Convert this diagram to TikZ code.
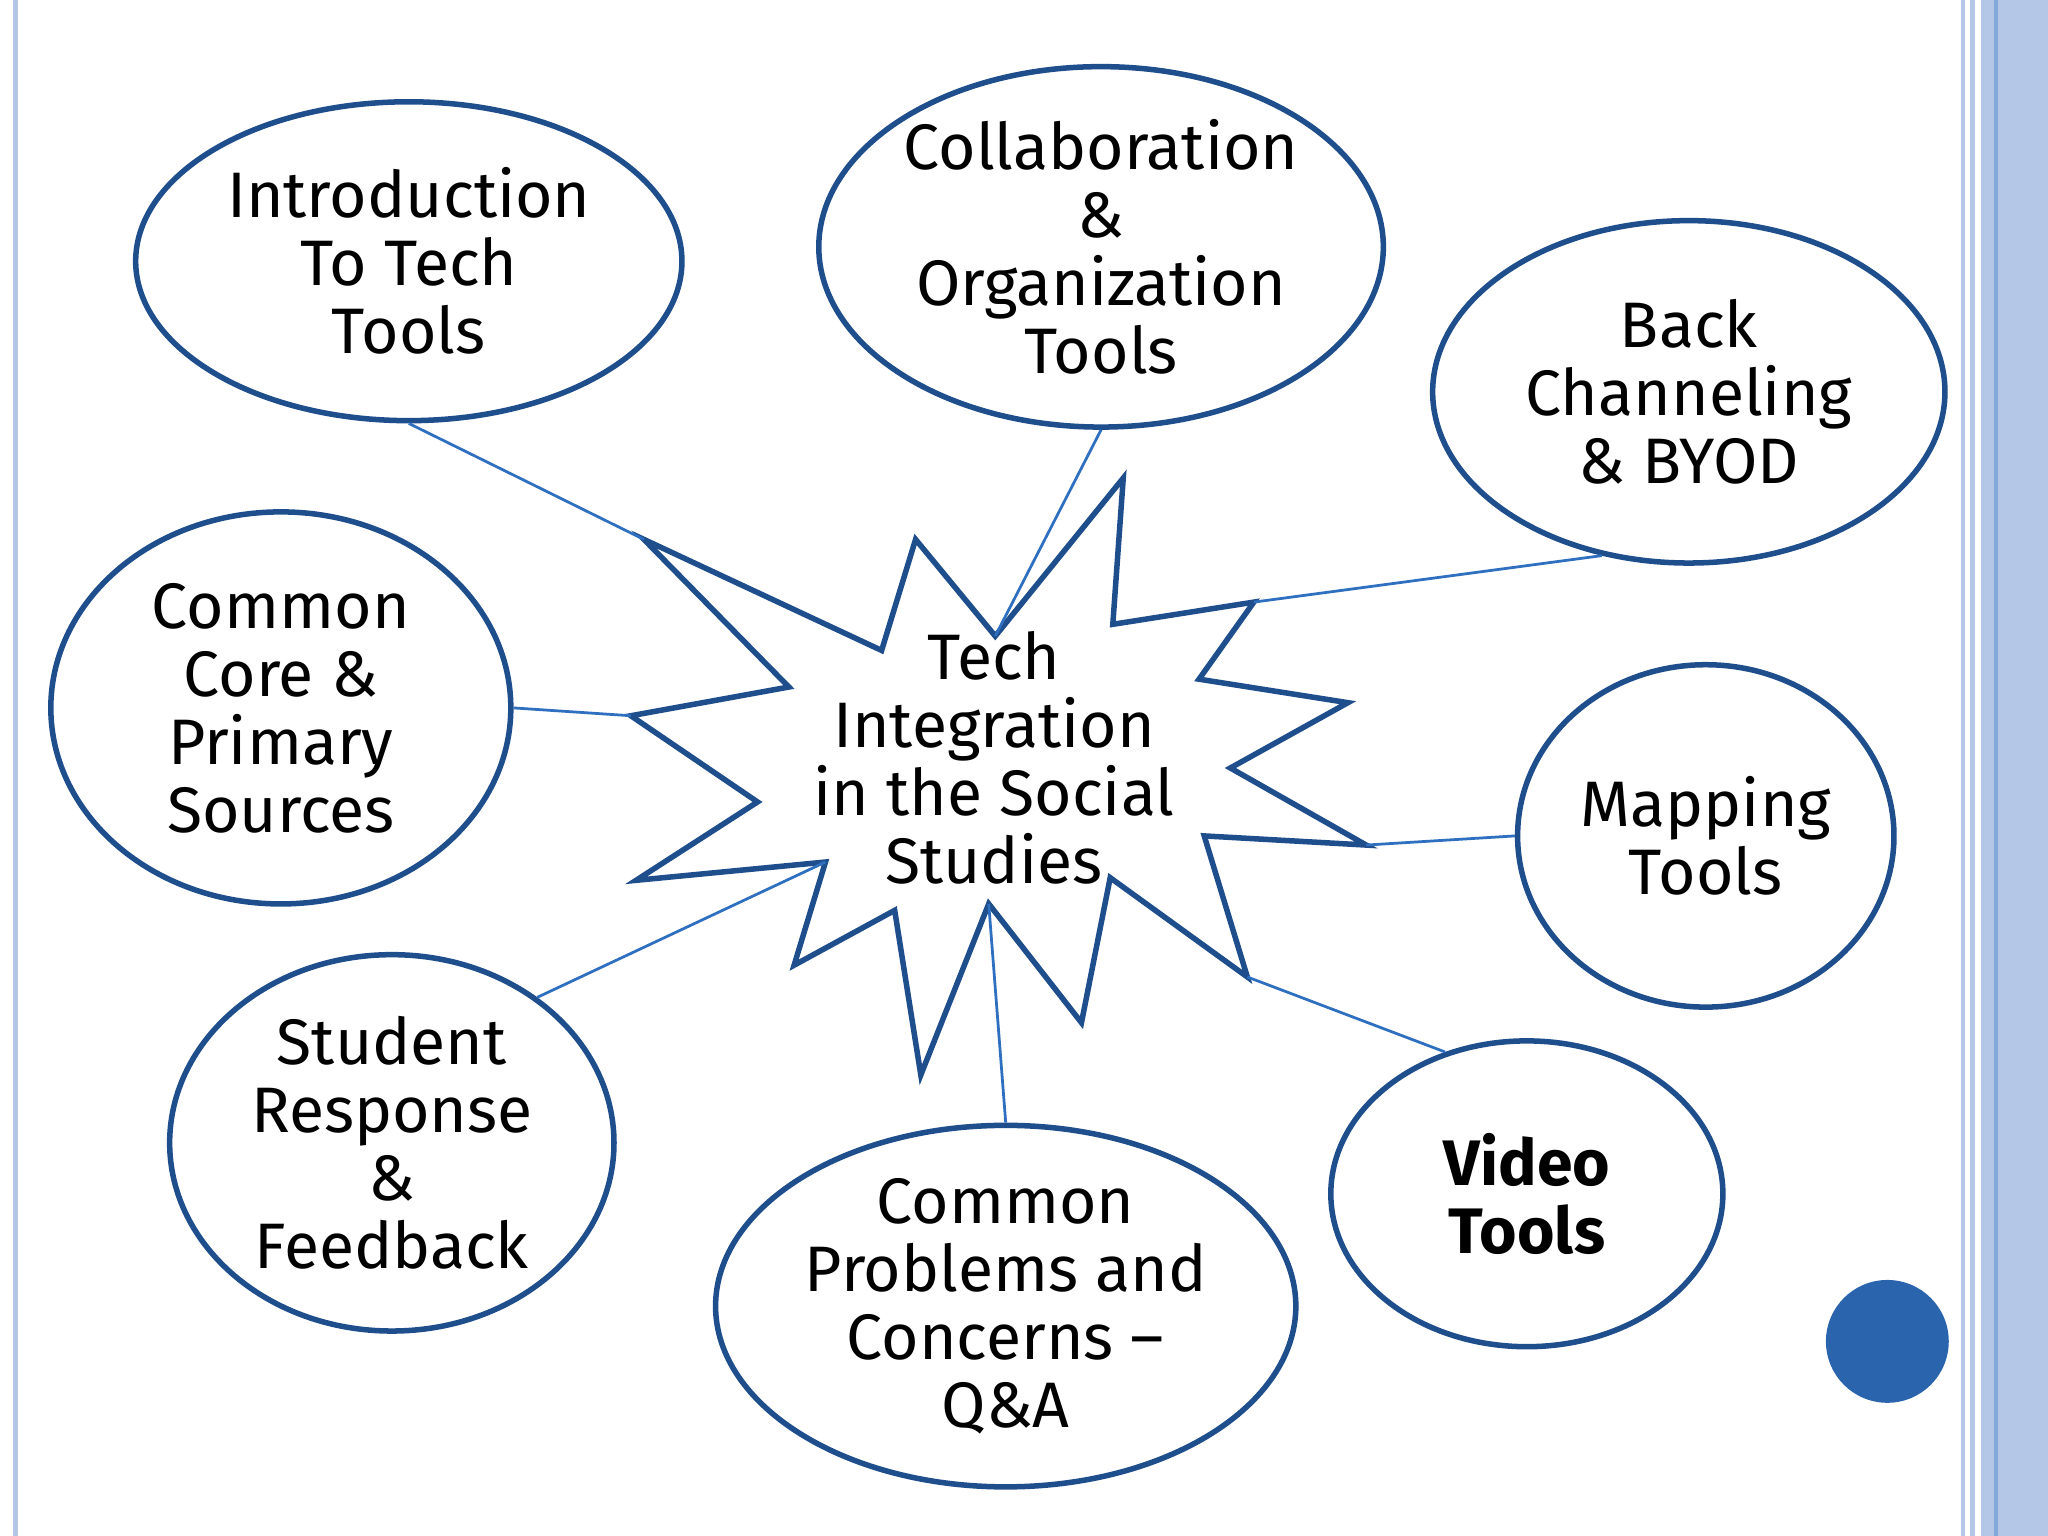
\documentclass[tikz,border=0pt]{standalone}
\usepackage{fontspec}
\setmainfont{Fira Sans}
\usetikzlibrary{shapes.geometric}
\definecolor{edge}{HTML}{1F4E8C}
\definecolor{conn}{HTML}{2E6FC0}
\definecolor{band}{HTML}{B4C7E7}
\tikzset{
 bub/.style={ellipse,draw=edge,line width=1.2pt,align=center,inner sep=0pt,font=\fontsize{14}{14.8}\selectfont},
 con/.style={draw=conn,line width=0.6pt},
}
\begin{document}
\begin{tikzpicture}[x=0.01cm,y=-0.01cm]
\useasboundingbox (0,0) rectangle (1568,1176);
\fill[white] (0,0) rectangle (1568,1176);
% borders
\draw[band,line width=1.2pt] (12,0) -- (12,1176);
\draw[band,line width=1pt] (1503,0) -- (1503,1176);
\draw[band,line width=1pt] (1510,0) -- (1510,1176);
\fill[band] (1517,0) rectangle (1568,1176);
\draw[conn!60,line width=0.8pt] (1528,0) -- (1528,1176);
% ellipses
\node[bub,minimum width=4.18cm,minimum height=2.44cm] (intro) at (313,200) {Introduction\\To Tech\\Tools};
\node[bub,minimum width=4.32cm,minimum height=2.74cm] (collab) at (843,189) {Collaboration\\\&\\Organization\\Tools};
\node[bub,minimum width=3.92cm,minimum height=2.62cm] (back) at (1293,300) {Back\\Channeling\\\& BYOD};
\node[bub,minimum width=3.52cm,minimum height=3.0cm] (cc) at (215,542) {Common\\Core \&\\Primary\\Sources};
\node[bub,minimum width=2.88cm,minimum height=2.62cm] (map) at (1306,640) {Mapping\\Tools};
\node[bub,minimum width=3.4cm,minimum height=2.88cm] (stu) at (300,875) {Student\\Response\\\&\\Feedback};
\node[bub,minimum width=4.44cm,minimum height=2.74cm] (prob) at (770,1000) {Common\\Problems and\\Concerns –\\Q\&A};
\node[bub,minimum width=3.0cm,minimum height=2.34cm,font=\fontsize{14}{14.8}\selectfont\bfseries] (vid) at (1169,914) {Video\\Tools};
\node[circle,fill=conn!90!black,minimum size=0.94cm,inner sep=0pt] (dot) at (1445,1027) {};
% star
\coordinate (s1) at (493,413); \coordinate (s2) at (675,498); \coordinate (s3) at (701,413);
\coordinate (s4) at (762,487); \coordinate (s5) at (860,366); \coordinate (s6) at (852,478);
\coordinate (s7) at (960,461); \coordinate (s8) at (918,520); \coordinate (s9) at (1032,538);
\coordinate (s10) at (942,588); \coordinate (s11) at (1046,647); \coordinate (s12) at (922,640);
\coordinate (s13) at (955,748); \coordinate (s14) at (850,672); \coordinate (s15) at (828,783);
\coordinate (s16) at (757,692); \coordinate (s17) at (705,823); \coordinate (s18) at (685,697);
\coordinate (s19) at (608,739); \coordinate (s20) at (632,660); \coordinate (s21) at (487,674);
\coordinate (s22) at (580,614); \coordinate (s23) at (483,548); \coordinate (s24) at (604,526);
\draw[edge,line width=1.2pt,line join=miter] (s1)--(s2)--(s3)--(s4)--(s5)--(s6)--(s7)--(s8)--(s9)--(s10)--(s11)--(s12)--(s13)--(s14)--(s15)--(s16)--(s17)--(s18)--(s19)--(s20)--(s21)--(s22)--(s23)--(s24)--cycle;
\node[align=center,font=\fontsize{14}{14.8}\selectfont] (hub) at (761,580) {Tech\\Integration\\in the Social\\Studies};
% connectors
\draw[con] (intro.south) -- (s1);
\draw[con] (collab.south) -- (s4);
\draw[con] (back.-118) -- (s7);
\draw[con] (cc.east) -- (s23);
\draw[con] (map.west) -- (s11);
\draw[con] (vid.120) -- (s13);
\draw[con] (prob.north) -- (s16);
\draw[con] (stu.45) -- (s20);
\end{tikzpicture}
\end{document}
